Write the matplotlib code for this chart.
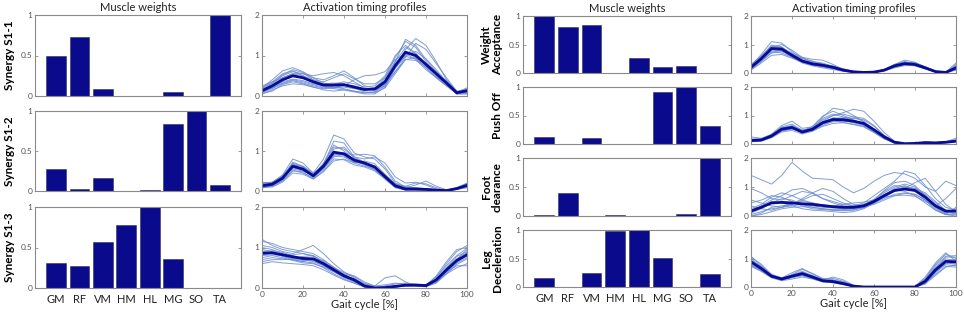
import matplotlib
matplotlib.use("Agg")
import matplotlib.pyplot as plt
import numpy as np

plt.rcParams['font.family'] = ['Lato', 'DejaVu Sans']

# muscles and gait cycle samples (every 5 %)
muscles = ['GM', 'RF', 'VM', 'HM', 'HL', 'MG', 'SO', 'TA']
gait = np.arange(0, 101, 5)

# ---------------- left block: synergies of subject S1 ----------------
left_labels = ['Synergy S1-1', 'Synergy S1-2', 'Synergy S1-3']
left_weights = [
    [0.49, 0.73, 0.09, 0.005, 0.005, 0.05, 0.005, 1.00],
    [0.28, 0.02, 0.16, 0.005, 0.01, 0.84, 1.00, 0.07],
    [0.31, 0.27, 0.57, 0.78, 1.00, 0.36, 0.005, 0.005],
]
s11_mean = [0.13, 0.25, 0.40, 0.50, 0.45, 0.35, 0.27, 0.27, 0.28, 0.22, 0.16, 0.17, 0.35, 0.75, 1.08, 1.00, 0.78, 0.55, 0.32, 0.08, 0.13]
s11_trials = [
    [0.20, 0.40, 0.62, 0.70, 0.60, 0.45, 0.40, 0.50, 0.62, 0.45, 0.25, 0.20, 0.45, 0.95, 1.35, 1.20, 0.85, 0.55, 0.30, 0.05, 0.15],
    [0.05, 0.15, 0.25, 0.30, 0.28, 0.22, 0.15, 0.12, 0.15, 0.12, 0.08, 0.10, 0.30, 0.80, 1.10, 0.95, 0.70, 0.45, 0.25, 0.05, 0.05],
    [0.15, 0.30, 0.50, 0.60, 0.55, 0.50, 0.55, 0.58, 0.50, 0.35, 0.20, 0.15, 0.25, 0.60, 0.95, 1.30, 1.15, 0.80, 0.45, 0.12, 0.10],
    [0.10, 0.20, 0.35, 0.42, 0.38, 0.30, 0.25, 0.30, 0.35, 0.30, 0.22, 0.25, 0.50, 1.00, 1.25, 1.05, 0.75, 0.50, 0.28, 0.06, 0.10],
    [0.25, 0.35, 0.45, 0.55, 0.55, 0.45, 0.32, 0.28, 0.25, 0.20, 0.15, 0.18, 0.30, 0.60, 0.90, 0.95, 0.80, 0.60, 0.35, 0.10, 0.20],
    [0.08, 0.18, 0.30, 0.38, 0.32, 0.25, 0.20, 0.22, 0.25, 0.40, 0.50, 0.52, 0.60, 0.90, 1.05, 0.90, 0.65, 0.45, 0.25, 0.08, 0.08],
    [0.18, 0.32, 0.52, 0.65, 0.58, 0.40, 0.28, 0.22, 0.18, 0.12, 0.08, 0.10, 0.25, 0.70, 1.15, 1.42, 1.25, 0.85, 0.40, 0.10, 0.15],
    [0.12, 0.22, 0.38, 0.48, 0.45, 0.38, 0.30, 0.32, 0.30, 0.20, 0.10, 0.08, 0.20, 0.55, 0.90, 0.88, 0.72, 0.55, 0.38, 0.12, 0.12],
    [0.15, 0.28, 0.45, 0.55, 0.50, 0.40, 0.35, 0.45, 0.55, 0.42, 0.30, 0.30, 0.45, 0.85, 1.20, 1.05, 0.80, 0.55, 0.30, 0.08, 0.14],
    [0.10, 0.20, 0.32, 0.40, 0.35, 0.28, 0.22, 0.18, 0.15, 0.10, 0.05, 0.05, 0.22, 0.68, 1.00, 1.10, 0.92, 0.65, 0.35, 0.08, 0.08],
    [0.20, 0.35, 0.55, 0.62, 0.50, 0.35, 0.25, 0.20, 0.22, 0.18, 0.15, 0.20, 0.40, 0.85, 1.40, 1.25, 0.90, 0.60, 0.33, 0.06, 0.18],
    [0.06, 0.12, 0.28, 0.35, 0.30, 0.22, 0.18, 0.20, 0.28, 0.25, 0.18, 0.15, 0.28, 0.70, 0.98, 0.92, 0.70, 0.48, 0.28, 0.05, 0.06],
]
s12_mean = [0.13, 0.17, 0.32, 0.62, 0.55, 0.38, 0.62, 0.97, 0.93, 0.77, 0.70, 0.60, 0.36, 0.13, 0.05, 0.05, 0.04, 0.02, 0.01, 0.06, 0.14]
s12_trials = [
    [0.20, 0.22, 0.40, 0.80, 0.70, 0.45, 0.80, 1.40, 1.30, 0.95, 0.85, 0.80, 0.55, 0.20, 0.10, 0.08, 0.05, 0.03, 0.02, 0.08, 0.18],
    [0.10, 0.12, 0.25, 0.50, 0.48, 0.30, 0.50, 0.80, 0.78, 0.65, 0.60, 0.50, 0.30, 0.10, 0.03, 0.02, 0.02, 0.01, 0.01, 0.05, 0.10],
    [0.15, 0.18, 0.35, 0.70, 0.60, 0.42, 0.68, 1.10, 1.05, 0.85, 0.80, 0.85, 0.70, 0.35, 0.20, 0.22, 0.15, 0.05, 0.02, 0.06, 0.15],
    [0.08, 0.14, 0.30, 0.58, 0.52, 0.35, 0.55, 0.85, 0.92, 0.80, 0.72, 0.58, 0.30, 0.08, 0.02, 0.03, 0.02, 0.01, 0.01, 0.04, 0.10],
    [0.18, 0.20, 0.35, 0.55, 0.50, 0.40, 0.70, 1.15, 1.00, 0.78, 0.65, 0.52, 0.32, 0.12, 0.08, 0.15, 0.25, 0.12, 0.03, 0.07, 0.16],
    [0.12, 0.16, 0.28, 0.65, 0.62, 0.45, 0.58, 0.90, 0.95, 0.90, 0.92, 0.88, 0.60, 0.25, 0.10, 0.06, 0.04, 0.02, 0.02, 0.06, 0.12],
    [0.22, 0.20, 0.38, 0.68, 0.55, 0.35, 0.62, 1.00, 0.88, 0.70, 0.62, 0.55, 0.35, 0.15, 0.12, 0.20, 0.18, 0.08, 0.02, 0.08, 0.20],
    [0.10, 0.12, 0.26, 0.52, 0.45, 0.32, 0.55, 0.88, 0.85, 0.72, 0.68, 0.62, 0.40, 0.15, 0.05, 0.04, 0.03, 0.02, 0.01, 0.05, 0.12],
    [0.15, 0.18, 0.34, 0.72, 0.62, 0.40, 0.66, 1.25, 1.20, 0.85, 0.72, 0.62, 0.35, 0.10, 0.03, 0.03, 0.03, 0.02, 0.01, 0.05, 0.14],
    [0.08, 0.10, 0.22, 0.45, 0.42, 0.30, 0.48, 0.75, 0.80, 0.70, 0.75, 0.68, 0.42, 0.18, 0.06, 0.04, 0.03, 0.02, 0.01, 0.04, 0.08],
    [0.18, 0.22, 0.36, 0.60, 0.50, 0.40, 0.65, 1.05, 1.10, 0.82, 0.70, 0.58, 0.38, 0.18, 0.10, 0.08, 0.06, 0.04, 0.02, 0.06, 0.18],
    [0.12, 0.15, 0.30, 0.60, 0.56, 0.38, 0.60, 0.92, 0.90, 0.75, 0.66, 0.55, 0.33, 0.10, 0.04, 0.05, 0.04, 0.02, 0.01, 0.06, 0.13],
]
s13_mean = [0.86, 0.87, 0.82, 0.77, 0.73, 0.72, 0.60, 0.45, 0.30, 0.20, 0.05, 0.00, 0.01, 0.04, 0.07, 0.07, 0.06, 0.20, 0.45, 0.68, 0.82]
s13_trials = [
    [1.15, 1.10, 1.00, 0.95, 0.90, 0.85, 0.70, 0.50, 0.32, 0.18, 0.04, 0.00, 0.02, 0.05, 0.08, 0.08, 0.06, 0.25, 0.60, 0.90, 1.05],
    [0.60, 0.65, 0.62, 0.60, 0.58, 0.55, 0.45, 0.32, 0.20, 0.12, 0.03, 0.00, 0.01, 0.03, 0.05, 0.06, 0.05, 0.15, 0.35, 0.50, 0.60],
    [1.05, 1.00, 0.90, 0.85, 0.95, 1.05, 0.85, 0.60, 0.40, 0.25, 0.08, 0.02, 0.05, 0.10, 0.12, 0.10, 0.08, 0.18, 0.42, 0.70, 0.95],
    [0.75, 0.80, 0.75, 0.68, 0.62, 0.60, 0.52, 0.40, 0.28, 0.22, 0.10, 0.05, 0.25, 0.30, 0.15, 0.05, 0.03, 0.12, 0.35, 0.58, 0.72],
    [0.90, 0.92, 0.88, 0.80, 0.70, 0.65, 0.55, 0.42, 0.35, 0.28, 0.12, 0.02, 0.01, 0.02, 0.05, 0.05, 0.05, 0.30, 0.65, 0.95, 1.00],
    [0.70, 0.75, 0.72, 0.70, 0.65, 0.62, 0.50, 0.35, 0.22, 0.12, 0.02, 0.00, 0.00, 0.02, 0.06, 0.08, 0.06, 0.20, 0.40, 0.55, 0.55],
    [1.20, 1.05, 0.95, 0.90, 0.85, 0.80, 0.65, 0.48, 0.30, 0.15, 0.03, 0.00, 0.01, 0.03, 0.06, 0.07, 0.07, 0.22, 0.50, 0.78, 0.90],
    [0.82, 0.85, 0.80, 0.72, 0.68, 0.70, 0.62, 0.50, 0.38, 0.30, 0.15, 0.05, 0.08, 0.12, 0.10, 0.06, 0.04, 0.14, 0.38, 0.62, 0.80],
    [0.95, 0.90, 0.78, 0.70, 0.65, 0.72, 0.68, 0.52, 0.34, 0.20, 0.05, 0.00, 0.01, 0.04, 0.08, 0.09, 0.07, 0.18, 0.42, 0.65, 0.85],
    [0.65, 0.70, 0.70, 0.72, 0.78, 0.80, 0.65, 0.45, 0.28, 0.18, 0.06, 0.01, 0.02, 0.05, 0.08, 0.08, 0.08, 0.28, 0.55, 0.80, 0.98],
    [1.00, 0.95, 0.85, 0.75, 0.70, 0.68, 0.55, 0.40, 0.25, 0.15, 0.04, 0.00, 0.01, 0.03, 0.06, 0.06, 0.05, 0.16, 0.40, 0.62, 0.75],
    [0.80, 0.82, 0.80, 0.82, 0.85, 0.78, 0.60, 0.42, 0.28, 0.18, 0.05, 0.01, 0.02, 0.04, 0.06, 0.07, 0.06, 0.20, 0.46, 0.72, 0.88],
]

# ---------------- right block: functional gait modules ----------------
right_labels = ['Weight\nAcceptance', 'Push Off', 'Foot\nclearance', 'Leg\nDeceleration']
right_weights = [
    [1.00, 0.81, 0.84, 0.005, 0.27, 0.10, 0.12, 0.005],
    [0.12, 0.005, 0.10, 0.005, 0.005, 0.91, 1.00, 0.31],
    [0.01, 0.39, 0.005, 0.01, 0.005, 0.005, 0.03, 1.00],
    [0.16, 0.005, 0.24, 0.98, 1.00, 0.51, 0.005, 0.23],
]
wa_mean = [0.20, 0.50, 0.86, 0.84, 0.62, 0.42, 0.32, 0.27, 0.20, 0.10, 0.04, 0.02, 0.03, 0.10, 0.25, 0.33, 0.30, 0.18, 0.05, 0.02, 0.18]
wa_trials = [
    [0.25, 0.65, 1.10, 1.05, 0.75, 0.50, 0.40, 0.35, 0.22, 0.10, 0.03, 0.02, 0.03, 0.12, 0.30, 0.40, 0.32, 0.18, 0.05, 0.02, 0.25],
    [0.10, 0.35, 0.62, 0.65, 0.52, 0.38, 0.28, 0.22, 0.15, 0.08, 0.03, 0.01, 0.02, 0.08, 0.20, 0.28, 0.26, 0.15, 0.04, 0.01, 0.10],
    [0.30, 0.60, 0.95, 0.90, 0.70, 0.55, 0.48, 0.45, 0.30, 0.12, 0.05, 0.03, 0.05, 0.12, 0.28, 0.38, 0.35, 0.22, 0.06, 0.03, 0.30],
    [0.15, 0.45, 0.80, 0.78, 0.55, 0.35, 0.25, 0.18, 0.12, 0.06, 0.02, 0.01, 0.02, 0.10, 0.26, 0.30, 0.25, 0.14, 0.04, 0.02, 0.15],
    [0.22, 0.55, 0.90, 1.00, 0.80, 0.55, 0.35, 0.28, 0.20, 0.10, 0.04, 0.02, 0.03, 0.08, 0.22, 0.35, 0.36, 0.22, 0.06, 0.02, 0.20],
    [0.18, 0.48, 0.75, 0.70, 0.55, 0.40, 0.35, 0.32, 0.25, 0.15, 0.06, 0.03, 0.04, 0.12, 0.30, 0.45, 0.38, 0.20, 0.05, 0.02, 0.16],
    [0.28, 0.58, 0.98, 0.92, 0.62, 0.38, 0.28, 0.22, 0.16, 0.08, 0.03, 0.02, 0.03, 0.09, 0.22, 0.30, 0.28, 0.16, 0.05, 0.03, 0.35],
    [0.12, 0.40, 0.70, 0.75, 0.65, 0.52, 0.42, 0.30, 0.18, 0.08, 0.03, 0.01, 0.02, 0.10, 0.24, 0.32, 0.30, 0.18, 0.05, 0.02, 0.12],
    [0.20, 0.52, 0.92, 0.88, 0.60, 0.40, 0.30, 0.26, 0.22, 0.14, 0.05, 0.02, 0.03, 0.11, 0.27, 0.36, 0.32, 0.20, 0.05, 0.02, 0.22],
    [0.16, 0.42, 0.72, 0.80, 0.68, 0.45, 0.33, 0.28, 0.20, 0.09, 0.03, 0.01, 0.02, 0.08, 0.18, 0.26, 0.26, 0.16, 0.04, 0.01, 0.14],
    [0.24, 0.56, 0.85, 0.78, 0.58, 0.42, 0.36, 0.30, 0.20, 0.10, 0.04, 0.02, 0.03, 0.10, 0.26, 0.34, 0.30, 0.18, 0.05, 0.02, 0.24],
    [0.18, 0.50, 0.82, 0.84, 0.64, 0.44, 0.32, 0.25, 0.18, 0.09, 0.04, 0.02, 0.03, 0.09, 0.24, 0.31, 0.28, 0.17, 0.05, 0.02, 0.18],
]
po_mean = [0.12, 0.14, 0.28, 0.52, 0.58, 0.42, 0.52, 0.75, 0.86, 0.85, 0.80, 0.72, 0.50, 0.25, 0.06, 0.01, 0.02, 0.05, 0.04, 0.06, 0.10]
po_trials = [
    [0.15, 0.18, 0.35, 0.65, 0.80, 0.55, 0.60, 0.95, 1.25, 1.20, 1.00, 0.80, 0.50, 0.20, 0.05, 0.01, 0.02, 0.04, 0.04, 0.06, 0.12],
    [0.08, 0.10, 0.22, 0.42, 0.48, 0.35, 0.45, 0.62, 0.72, 0.75, 0.70, 0.62, 0.42, 0.20, 0.05, 0.01, 0.02, 0.04, 0.03, 0.05, 0.08],
    [0.25, 0.20, 0.32, 0.55, 0.60, 0.48, 0.58, 0.85, 1.00, 1.10, 1.22, 1.15, 0.80, 0.40, 0.10, 0.02, 0.02, 0.05, 0.05, 0.08, 0.20],
    [0.10, 0.12, 0.25, 0.48, 0.55, 0.40, 0.55, 0.90, 1.05, 0.95, 0.82, 0.68, 0.45, 0.22, 0.05, 0.01, 0.02, 0.05, 0.04, 0.05, 0.10],
    [0.12, 0.15, 0.30, 0.55, 0.65, 0.50, 0.48, 0.65, 0.80, 0.88, 0.90, 0.85, 0.62, 0.30, 0.08, 0.02, 0.03, 0.06, 0.05, 0.07, 0.12],
    [0.14, 0.16, 0.32, 0.58, 0.62, 0.38, 0.45, 0.70, 0.85, 0.82, 0.75, 0.65, 0.42, 0.18, 0.04, 0.01, 0.02, 0.05, 0.04, 0.06, 0.11],
    [0.10, 0.12, 0.26, 0.45, 0.52, 0.45, 0.62, 0.98, 1.15, 1.00, 0.85, 0.70, 0.45, 0.20, 0.05, 0.01, 0.02, 0.04, 0.04, 0.05, 0.09],
    [0.18, 0.18, 0.30, 0.50, 0.58, 0.42, 0.50, 0.72, 0.88, 0.92, 0.95, 0.90, 0.65, 0.30, 0.08, 0.02, 0.03, 0.06, 0.05, 0.08, 0.15],
    [0.09, 0.11, 0.24, 0.48, 0.55, 0.40, 0.52, 0.78, 0.82, 0.75, 0.68, 0.60, 0.40, 0.18, 0.04, 0.01, 0.02, 0.04, 0.03, 0.05, 0.08],
    [0.13, 0.15, 0.30, 0.60, 0.70, 0.46, 0.50, 0.80, 1.00, 1.05, 0.95, 0.78, 0.52, 0.25, 0.06, 0.01, 0.02, 0.05, 0.04, 0.06, 0.12],
    [0.11, 0.13, 0.27, 0.50, 0.56, 0.43, 0.54, 0.70, 0.78, 0.80, 0.78, 0.70, 0.48, 0.24, 0.06, 0.01, 0.02, 0.05, 0.04, 0.06, 0.10],
    [0.12, 0.14, 0.29, 0.54, 0.60, 0.44, 0.50, 0.76, 0.92, 0.90, 0.82, 0.74, 0.52, 0.26, 0.07, 0.01, 0.02, 0.05, 0.04, 0.06, 0.11],
]
fc_mean = [0.17, 0.30, 0.45, 0.47, 0.45, 0.42, 0.40, 0.36, 0.32, 0.30, 0.30, 0.35, 0.50, 0.70, 0.88, 0.93, 0.88, 0.65, 0.35, 0.17, 0.17]
fc_trials = [
    [1.40, 1.25, 1.10, 1.40, 1.85, 1.55, 1.30, 1.28, 1.25, 1.00, 0.80, 0.95, 1.20, 1.40, 1.50, 1.45, 1.30, 1.00, 0.85, 1.20, 1.05],
    [0.95, 0.80, 0.60, 0.55, 0.70, 0.85, 0.78, 0.60, 0.50, 0.40, 0.35, 0.45, 0.70, 0.95, 1.20, 1.55, 1.45, 1.05, 0.60, 0.30, 0.20],
    [0.10, 0.25, 0.45, 0.60, 0.55, 0.40, 0.30, 0.25, 0.22, 0.20, 0.22, 0.30, 0.50, 0.75, 0.90, 0.85, 0.70, 0.45, 0.20, 0.05, 0.10],
    [0.00, 0.10, 0.30, 0.35, 0.40, 0.55, 0.70, 0.75, 0.60, 0.45, 0.35, 0.40, 0.55, 0.80, 1.00, 1.10, 1.00, 0.70, 0.30, 0.05, 0.05],
    [0.55, 0.45, 0.35, 0.30, 0.35, 0.40, 0.35, 0.30, 0.28, 0.25, 0.28, 0.38, 0.58, 0.85, 1.05, 1.00, 0.95, 0.80, 0.50, 0.20, 0.15],
    [0.25, 0.40, 0.65, 0.80, 0.70, 0.55, 0.45, 0.35, 0.30, 0.28, 0.25, 0.30, 0.40, 0.55, 0.70, 0.78, 0.75, 0.55, 0.30, 0.10, 0.20],
    [0.05, 0.15, 0.25, 0.30, 0.40, 0.60, 0.80, 0.95, 0.85, 0.60, 0.40, 0.35, 0.45, 0.65, 0.85, 0.95, 1.15, 1.30, 0.85, 0.40, 0.15],
    [0.15, 0.30, 0.50, 0.45, 0.35, 0.25, 0.20, 0.18, 0.15, 0.12, 0.15, 0.25, 0.45, 0.72, 0.95, 1.05, 0.90, 0.55, 0.20, 0.05, 0.30],
    [0.35, 0.25, 0.20, 0.30, 0.45, 0.50, 0.45, 0.38, 0.35, 0.40, 0.45, 0.48, 0.55, 0.65, 0.70, 0.72, 0.68, 0.50, 0.35, 0.60, 0.95],
    [0.00, 0.05, 0.15, 0.25, 0.30, 0.32, 0.30, 0.25, 0.20, 0.18, 0.20, 0.28, 0.45, 0.60, 0.75, 0.80, 0.75, 0.55, 0.25, 0.05, 0.00],
    [0.20, 0.35, 0.55, 0.70, 0.90, 0.95, 0.80, 0.60, 0.45, 0.35, 0.30, 0.32, 0.48, 0.70, 0.92, 1.00, 0.95, 0.75, 0.45, 0.15, 0.10],
    [0.45, 0.55, 0.70, 0.65, 0.50, 0.35, 0.25, 0.22, 0.20, 0.22, 0.25, 0.35, 0.55, 0.88, 1.15, 1.20, 1.05, 0.70, 0.35, 0.10, 0.25],
]
ld_mean = [0.88, 0.65, 0.38, 0.28, 0.38, 0.47, 0.35, 0.22, 0.19, 0.12, 0.03, 0.00, 0.00, 0.00, 0.00, 0.00, 0.00, 0.20, 0.60, 0.90, 0.88]
ld_trials = [
    [1.05, 0.80, 0.45, 0.32, 0.50, 0.65, 0.45, 0.28, 0.30, 0.20, 0.05, 0.01, 0.00, 0.00, 0.00, 0.00, 0.01, 0.30, 0.80, 1.15, 1.00],
    [0.72, 0.55, 0.32, 0.22, 0.28, 0.35, 0.28, 0.18, 0.15, 0.08, 0.02, 0.00, 0.00, 0.00, 0.00, 0.00, 0.00, 0.15, 0.45, 0.72, 0.70],
    [0.95, 0.72, 0.42, 0.30, 0.42, 0.55, 0.40, 0.25, 0.35, 0.25, 0.06, 0.01, 0.01, 0.00, 0.00, 0.00, 0.00, 0.22, 0.65, 1.05, 1.05],
    [0.80, 0.58, 0.35, 0.25, 0.35, 0.42, 0.30, 0.18, 0.15, 0.10, 0.03, 0.00, 0.00, 0.00, 0.00, 0.00, 0.00, 0.10, 0.50, 0.85, 0.80],
    [1.08, 0.75, 0.40, 0.28, 0.40, 0.52, 0.38, 0.22, 0.20, 0.14, 0.04, 0.00, 0.00, 0.00, 0.00, 0.00, 0.02, 0.35, 0.85, 1.20, 0.90],
    [0.85, 0.62, 0.36, 0.30, 0.42, 0.48, 0.32, 0.20, 0.18, 0.10, 0.02, 0.00, 0.00, 0.00, 0.00, 0.00, 0.00, 0.18, 0.55, 0.82, 0.85],
    [0.78, 0.60, 0.40, 0.32, 0.36, 0.40, 0.32, 0.24, 0.22, 0.16, 0.05, 0.01, 0.00, 0.00, 0.00, 0.00, 0.00, 0.12, 0.40, 0.70, 0.78],
    [0.92, 0.68, 0.38, 0.26, 0.44, 0.62, 0.48, 0.30, 0.25, 0.15, 0.03, 0.00, 0.00, 0.00, 0.00, 0.00, 0.00, 0.25, 0.70, 0.98, 0.95],
    [0.88, 0.66, 0.36, 0.25, 0.32, 0.40, 0.30, 0.20, 0.17, 0.10, 0.03, 0.00, 0.00, 0.00, 0.00, 0.00, 0.00, 0.20, 0.62, 0.90, 0.92],
    [1.00, 0.70, 0.40, 0.30, 0.40, 0.50, 0.36, 0.24, 0.24, 0.18, 0.05, 0.01, 0.00, 0.00, 0.00, 0.00, 0.00, 0.28, 0.75, 1.08, 1.10],
    [0.75, 0.56, 0.34, 0.26, 0.36, 0.44, 0.34, 0.22, 0.18, 0.12, 0.03, 0.00, 0.00, 0.00, 0.00, 0.00, 0.00, 0.15, 0.52, 0.78, 0.75],
    [0.90, 0.64, 0.38, 0.28, 0.38, 0.46, 0.34, 0.21, 0.20, 0.12, 0.03, 0.00, 0.00, 0.00, 0.00, 0.00, 0.00, 0.20, 0.58, 0.92, 0.90],
]

left_means = [s11_mean, s12_mean, s13_mean]
left_trials = [s11_trials, s12_trials, s13_trials]
right_means = [wa_mean, po_mean, fc_mean, ld_mean]
right_trials = [wa_trials, po_trials, fc_trials, ld_trials]

bar_color = '#0a0a8c'
thin_color = '#6a8ccd'
mean_color = '#0a0a96'
spine_color = '#8a8a8a'
tick_color = '#555555'

W, H = 964, 312
fig = plt.figure(figsize=(W / 100, H / 100), dpi=100)


def px_axes(x0, x1, y0, y1):
    return fig.add_axes([x0 / W, 1 - y1 / H, (x1 - x0) / W, (y1 - y0) / H])


def style(ax):
    for s in ax.spines.values():
        s.set_color(spine_color)
        s.set_linewidth(0.8)
    ax.tick_params(direction='in', length=2, width=0.6, colors=spine_color,
                   labelcolor=tick_color, labelsize=6, pad=2,
                   top=True, right=True)


def bar_panel(ax, weights, label, show_names):
    ax.bar(np.arange(1, 9), weights, width=0.84, color=bar_color,
           edgecolor='#333355', linewidth=0.4)
    ax.set_xlim(0.1, 8.9)
    ax.set_ylim(0, 1)
    ax.set_yticks([0, 0.5, 1])
    ax.set_yticklabels(['0', '0.5', '1'])
    style(ax)
    ax.tick_params(axis='x', length=0)
    if show_names:
        ax.set_xticks(np.arange(1, 9))
        ax.set_xticklabels(muscles, fontsize=8, color='#222222')
        ax.tick_params(axis='x', pad=4)
    else:
        ax.set_xticks([])
    ax.set_ylabel(label, fontsize=8.5, fontweight='bold', labelpad=4,
                  linespacing=1.0)


def profile_panel(ax, mean, trials, show_x):
    for tr in trials:
        ax.plot(gait, tr, color=thin_color, lw=0.7, alpha=0.85)
    ax.plot(gait, mean, color=mean_color, lw=2.0)
    ax.set_xlim(0, 100)
    ax.set_ylim(0, 2)
    ax.set_yticks([0, 1, 2])
    ax.set_xticks(np.arange(0, 101, 20))
    style(ax)
    if show_x:
        ax.set_xlabel('Gait cycle [%]', fontsize=8, color='#222222', labelpad=1)
    else:
        ax.set_xticklabels([])


left_rows = [(15, 96), (111, 191), (207, 288)]
for i, (y0, y1) in enumerate(left_rows):
    axb = px_axes(35, 241, y0, y1)
    bar_panel(axb, left_weights[i], left_labels[i], i == len(left_rows) - 1)
    axp = px_axes(262, 467, y0, y1)
    profile_panel(axp, left_means[i], left_trials[i], i == len(left_rows) - 1)
    if i == 0:
        axb.set_title('Muscle weights', fontsize=8, pad=3, color='#222222')
        axp.set_title('Activation timing profiles', fontsize=8, pad=3, color='#222222')

right_rows = [(16, 73), (87, 144), (158, 216), (230, 287)]
for i, (y0, y1) in enumerate(right_rows):
    axb = px_axes(523, 731, y0, y1)
    bar_panel(axb, right_weights[i], right_labels[i], i == len(right_rows) - 1)
    axp = px_axes(751, 956, y0, y1)
    profile_panel(axp, right_means[i], right_trials[i], i == len(right_rows) - 1)
    if i == 0:
        axb.set_title('Muscle weights', fontsize=8, pad=3, color='#222222')
        axp.set_title('Activation timing profiles', fontsize=8, pad=3, color='#222222')

fig.savefig('out.png', dpi=100)
